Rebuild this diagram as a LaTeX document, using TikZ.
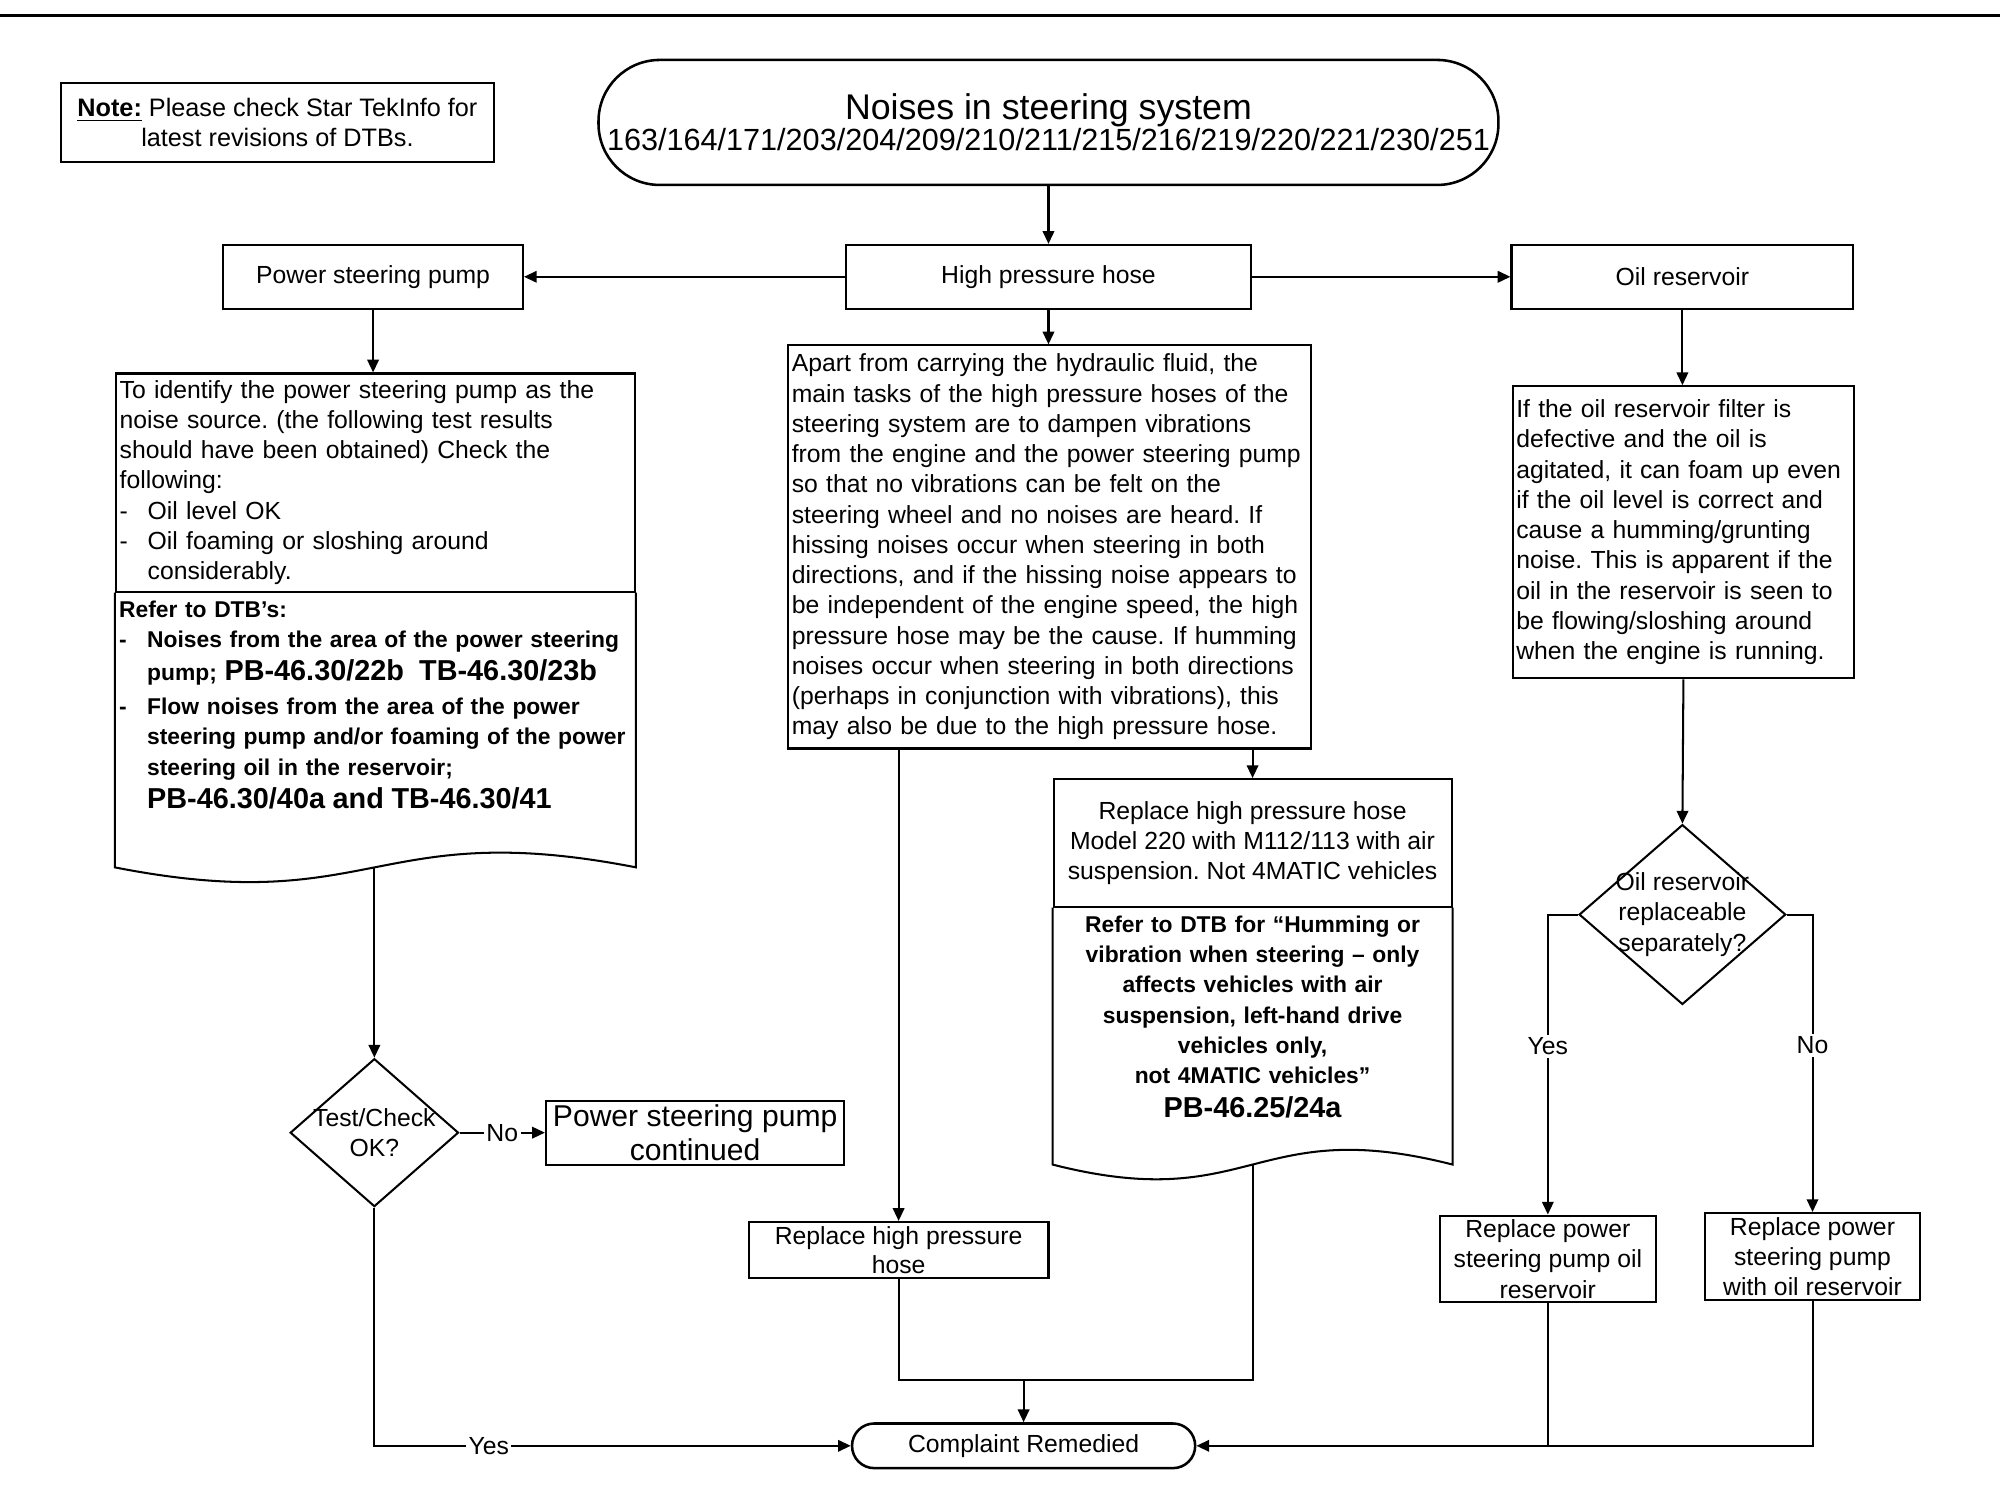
\documentclass[tikz,border=0pt]{standalone}
\usepackage{fontspec}
\setmainfont{Liberation Sans}
\usetikzlibrary{shapes.geometric,arrows.meta,calc}

\newcommand{\bodyfont}{\fontsize{9.7}{11.85}\selectfont\frenchspacing}
\newcommand{\refsfont}{\fontsize{8.95}{11.85}\selectfont\bfseries\frenchspacing}
\newcommand{\bigref}{\fontsize{11.3}{11.85}\selectfont\bfseries\rule{0pt}{10pt}}
\newcommand{\dashitem}[1]{\par\hangindent=11pt\hangafter=1\noindent\makebox[11pt][l]{-}#1}

\begin{document}
\begin{tikzpicture}[x=0.5pt, y=-0.5pt,
	box/.style={draw, line width=0.8pt, align=center, font=\bodyfont, inner sep=1pt},
	info/.style={draw, line width=0.8pt, align=left, font=\bodyfont, inner xsep=1.5pt, inner ysep=1pt},
	refs/.style={align=left, font=\refsfont, inner xsep=1.5pt, inner ysep=3pt},
	doc/.style={line width=0.8pt},
	decision/.style={draw, diamond, line width=0.8pt, inner sep=0pt},
	terminal/.style={draw, rectangle, line width=1pt, align=center},
	arr/.style={line width=0.8pt, -{Triangle[length=5pt,width=4.5pt]}},
	conn/.style={line width=0.8pt},
	lbl/.style={fill=white, font=\bodyfont, inner sep=1pt}]

	\useasboundingbox (0,0) rectangle (1568,1179);
	\draw[line width=1.3pt] (0,12) -- (1568,12);

	% header
	\node[box, minimum width=169.5pt, minimum height=31pt, font=\fontsize{9.9}{11.85}\selectfont] (note) at (217.5,96) {\underline{\textbf{Note:}} Please check Star TekInfo for\\latest revisions of DTBs.};
	\node[terminal, rounded corners=24pt, minimum width=352.5pt, minimum height=49pt, font=\fontsize{12}{12.3}\selectfont] (title) at (822,96) {{\fontsize{14}{15}\selectfont Noises in steering system}\\163/164/171/203/204/209/210/211/215/216/219/220/221/230/251};

	\node[box, minimum width=117.5pt, minimum height=25pt] (psp) at (292.5,217) {Power steering pump};
	\node[box, minimum width=159pt, minimum height=25pt] (hph) at (822,217) {High pressure hose};
	\node[box, minimum width=134pt, minimum height=25pt] (oil) at (1319,217) {Oil reservoir};

	% power steering pump branch
	\node[info, text width=200.5pt, minimum height=85.5pt, anchor=north west] (pumpinfo) at (90,292) {To identify the power steering pump as the\\
		noise source. (the following test results\\
		should have been obtained) Check the\\
		following:
		\dashitem{Oil level OK}
		\dashitem{Oil foaming or sloshing around\newline considerably.}\par};
	\node[refs, text width=200.5pt, anchor=north west] (pumpref) at (pumpinfo.south west) {Refer to DTB's:
		\dashitem{Noises from the area of the power steering\newline pump; {\bigref PB-46.30/22b\ \ TB-46.30/23b}}
		\vspace{1.6pt}
		\dashitem{Flow noises from the area of the power\newline steering pump and/or foaming of the power\newline steering oil in the reservoir;\newline {\bigref PB-46.30/40a and TB-46.30/41}}\par};
	\coordinate (pumpwave) at (293.5,680);
	\draw[doc] (pumpinfo.south west) -- (pumpinfo.south west |- pumpwave) .. controls ($(pumpwave)+(0,40)$) and ($(pumpwave)+(0,-40)$) .. (pumpinfo.south east |- pumpwave) -- (pumpinfo.south east);

	\node[decision, minimum width=66pt, minimum height=58pt, label={[font=\bodyfont, align=center]center:Test/Check\\OK?}] (chk) at (293.5,888) {};
	\node[box, minimum width=117pt, minimum height=25pt, font=\fontsize{11.8}{13.5}\selectfont] (cont) at (545,888) {Power steering pump\\continued};

	% high pressure hose branch
	\node[info, text width=202pt, minimum height=158pt, anchor=north west] (hphinfo) at (617,270) {Apart from carrying the hydraulic fluid, the\\
		main tasks of the high pressure hoses of the\\
		steering system are to dampen vibrations\\
		from the engine and the power steering pump\\
		so that no vibrations can be felt on the\\
		steering wheel and no noises are heard. If\\
		hissing noises occur when steering in both\\
		directions, and if the hissing noise appears to\\
		be independent of the engine speed, the high\\
		pressure hose may be the cause. If humming\\
		noises occur when steering in both directions\\
		(perhaps in conjunction with vibrations), this\\
		may also be due to the high pressure hose.};

	\node[box, minimum width=156pt, minimum height=50pt, anchor=north] (rmodel) at (982,610) {Replace high pressure hose\\Model 220 with M112/113 with air\\suspension. Not 4MATIC vehicles};
	\node[refs, align=center, text width=153pt, anchor=north] (rmodelref) at (rmodel.south) {Refer to DTB for ``Humming or\\
		vibration when steering -- only\\
		affects vehicles with air\\
		suspension, left-hand drive\\
		vehicles only,\\
		not 4MATIC vehicles''\\[1.5pt]
		{\bigref PB-46.25/24a}};
	\coordinate (rmodelwave) at (982,913);
	\draw[doc] (rmodel.south west) -- (rmodel.south west |- rmodelwave) .. controls ($(rmodelwave)+(0,40)$) and ($(rmodelwave)+(0,-40)$) .. (rmodel.south east |- rmodelwave) -- (rmodel.south east);

	\node[box, minimum width=117.5pt, minimum height=22pt, inner sep=0pt, font=\fontsize{9.7}{11.5}\selectfont] (rhose) at (704.5,980) {Replace high pressure\\hose};

	% oil reservoir branch
	\node[info, text width=131pt, minimum height=114.5pt, anchor=north west] (oilinfo) at (1185,302) {If the oil reservoir filter is\\
		defective and the oil is\\
		agitated, it can foam up even\\
		if the oil level is correct and\\
		cause a humming/grunting\\
		noise. This is apparent if the\\
		oil in the reservoir is seen to\\
		be flowing/sloshing around\\
		when the engine is running.};

	\node[decision, minimum width=81pt, minimum height=70.5pt, label={[font=\bodyfont, align=center]center:Oil reservoir\\replaceable\\separately?}] (sep) at (1319,717) {};
	\node[box, minimum width=84.5pt, minimum height=34pt, inner sep=0pt] (resv) at (1213.5,987) {Replace power\\steering pump oil\\reservoir};
	\node[box, minimum width=84pt, minimum height=34pt, inner sep=0pt] (rwith) at (1421,985) {Replace power\\steering pump\\with oil reservoir};

	\node[terminal, rounded corners=8.7pt, minimum width=134.5pt, minimum height=17.5pt, font=\bodyfont] (done) at (802.5,1133.5) {Complaint Remedied};

	% connectors
	\draw[arr] (title.south) -- (hph.north);
	\draw[arr] (hph.west) -- (psp.east);
	\draw[arr] (hph.east) -- (oil.west);
	\draw[arr] (psp.south) -- (psp.south |- pumpinfo.north);
	\draw[arr] (hph.south) -- (hph.south |- hphinfo.north);
	\draw[arr] (oil.south) -- (oil.south |- oilinfo.north);
	\draw[arr] (pumpwave) -- (chk.north);
	\draw[arr] (chk.east) -- node[lbl]{No} (cont.west);
	\draw[arr] (chk.south) |- node[lbl, pos=0.62]{Yes} (done.west);
	\draw[arr] (rhose.north |- hphinfo.south) -- (rhose.north);
	\draw[arr] (rmodel.north |- hphinfo.south) -- (rmodel.north);
	\draw[arr] (oilinfo.south) -- (sep.north);
	\draw[arr] (sep.west) -| node[lbl, pos=0.72]{Yes} (resv.north);
	\draw[arr] (sep.east) -| node[lbl, pos=0.72]{No} (rwith.north);
	\coordinate (merge) at (802.5,1082);
	\draw[conn] (rhose.south) |- (merge) -| (rmodelwave);
	\draw[arr] (merge) -- (done.north);
	\draw[conn] (resv.south) -- (resv.south |- done.east);
	\draw[arr] (rwith.south) |- (done.east);

\end{tikzpicture}
\end{document}
